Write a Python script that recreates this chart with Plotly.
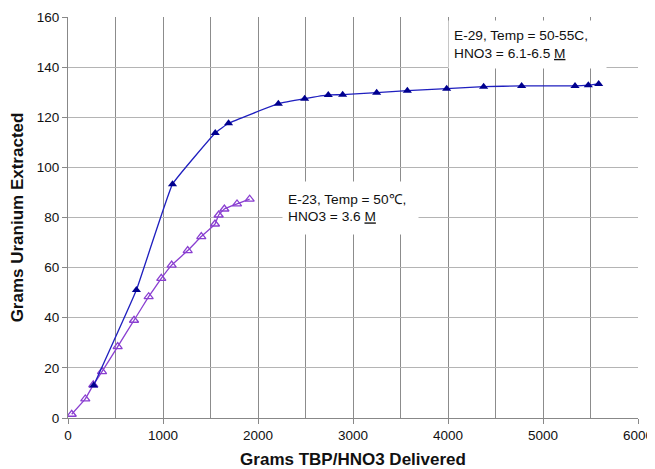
import plotly.graph_objects as go

# E-29 series (filled triangles)
e29_x = [270, 720, 1100, 1550, 1690, 2214, 2491, 2740, 2891, 3249, 3572, 3986, 4375, 4775, 5337, 5477, 5586]
e29_y = [13.0, 51.1, 93.3, 113.7, 117.6, 125.4, 127.4, 128.9, 129.0, 129.8, 130.6, 131.4, 132.2, 132.5, 132.5, 132.8, 133.3]

# E-23 series (open triangles)
e23_x = [39, 182, 266, 358, 523, 695, 849, 982, 1091, 1260, 1403, 1547, 1586, 1646, 1779, 1912]
e23_y = [1.5, 7.6, 13.2, 18.5, 28.5, 39.0, 48.4, 55.7, 61.0, 66.8, 72.4, 77.4, 81.0, 83.4, 85.4, 87.3]

label_e29 = "E-29, Temp = 50-55C,<br>HNO3 = 6.1-6.5 <u>M</u>"
label_e23 = "E-23, Temp = 50\u2103,<br>HNO3 = 3.6 <u>M</u>"

x_title = "Grams TBP/HNO3 Delivered"
y_title = "Grams Uranium Extracted"

FONT = "Liberation Sans, Arial, Helvetica, sans-serif"

fig = go.Figure()
fig.add_trace(go.Scatter(
    x=e23_x, y=e23_y, mode="lines+markers",
    line=dict(color="#8a3fd1", width=1.3, shape="spline", smoothing=0.25),
    marker=dict(symbol="triangle-up-open", size=8, color="#8a3fd1", line=dict(width=1.3)),
    showlegend=False,
))
fig.add_trace(go.Scatter(
    x=e29_x, y=e29_y, mode="lines+markers",
    line=dict(color="#1f1fbf", width=1.3, shape="spline", smoothing=0.25),
    marker=dict(symbol="triangle-up", size=8, color="#00008f"),
    showlegend=False,
))

fig.add_annotation(
    x=4000, y=158.8, xref="x", yref="y", xanchor="left", yanchor="top",
    text=label_e29, showarrow=False, align="left", width=147, height=37,
    bgcolor="white", borderpad=5, valign="middle",
    font=dict(family=FONT, size=13.7, color="#111"),
)
fig.add_annotation(
    x=2250, y=94.5, xref="x", yref="y", xanchor="left", yanchor="top",
    text=label_e23, showarrow=False, align="left", width=125, height=42,
    bgcolor="white", borderpad=5, valign="middle",
    font=dict(family=FONT, size=13.7, color="#111"),
)

# page body adds an 8px offset; size the figure to fit the window exactly
fig.update_layout(
    width=647, height=461,
    margin=dict(l=60, r=17, t=9, b=51),
    paper_bgcolor="white", plot_bgcolor="white",
    font=dict(family=FONT, size=13, color="#111"),
)
fig.update_xaxes(
    range=[0, 6000], dtick=1000, tick0=0, automargin=False,
    showgrid=True, gridcolor="#8c8c8c", gridwidth=1,
    minor=dict(dtick=500, showgrid=True, gridcolor="#8c8c8c", gridwidth=1),
    showline=True, linecolor="#888", linewidth=1, mirror=False,
    ticks="outside", ticklen=5, tickcolor="#888",
    tickfont=dict(size=13.5),
    zeroline=False,
    title=dict(text="<b>" + x_title + "</b>", font=dict(family=FONT, size=17, color="#111"), standoff=13),
)
fig.update_yaxes(
    range=[0, 160], dtick=20, tick0=0, automargin=False,
    showgrid=True, gridcolor="#b4b4b4", gridwidth=1,
    showline=True, linecolor="#888", linewidth=1,
    ticks="outside", ticklen=5, tickcolor="#888",
    tickfont=dict(size=13.5),
    zeroline=False,
    title=dict(text="<b>" + y_title + "</b>", font=dict(family=FONT, size=17, color="#111"), standoff=10),
)

fig.write_html("out.html")
